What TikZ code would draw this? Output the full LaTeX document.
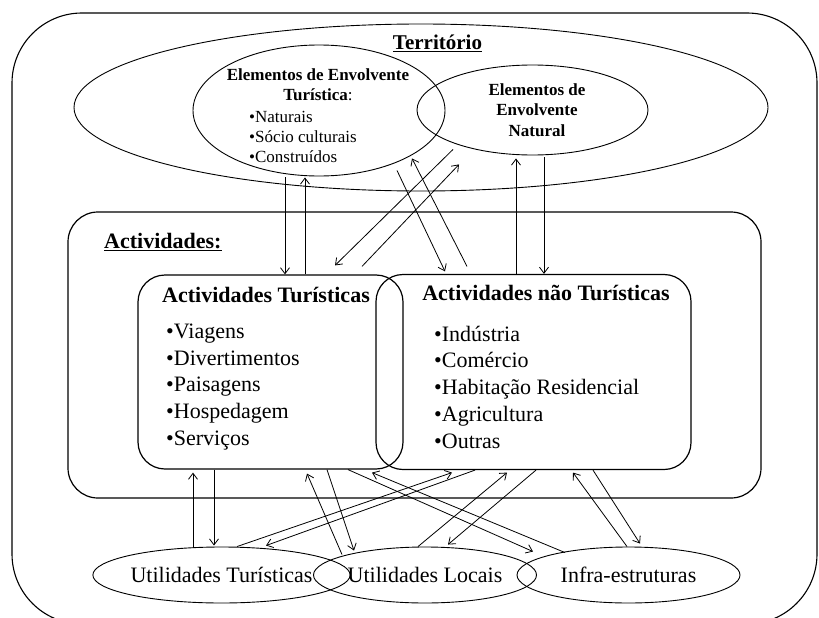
\documentclass[tikz,border=0pt]{standalone}
\usepackage{fontspec}
\setmainfont{Liberation Serif}
\usetikzlibrary{arrows.meta, calc, positioning, shapes.geometric}

\begin{document}
\begin{tikzpicture}[x=1pt, y=-1pt, node distance=203.5pt,
  >={Straight Barb[length=6pt,width=9pt]},
  oval/.style={draw, ellipse, line width=0.9pt, inner sep=0pt},
  box/.style={draw, rectangle, rounded corners=27pt, line width=1.2pt, inner sep=0pt},
  util/.style={oval, minimum width=223pt, minimum height=56pt, font=\fontsize{22}{26}\selectfont},
  big/.style={font=\fontsize{22}{26.75}\selectfont, align=left, inner sep=0pt},
  bigb/.style={font=\fontsize{22}{26.75}\selectfont\bfseries, inner sep=0pt},
  small/.style={font=\fontsize{17}{20}\selectfont, align=left, inner sep=0pt},
  smallb/.style={font=\fontsize{17}{20.5}\selectfont\bfseries, align=center, inner sep=0pt},
  link/.style={->, line width=0.8pt}]
  \useasboundingbox (0,0) rectangle (819,618);
  \draw[line width=1.1pt, rounded corners=70pt] (12,13) rectangle (817,624);

  \node[oval, minimum width=694pt, minimum height=167pt] (terr) at (421,107.5) {};
  \node[font=\fontsize{21}{24}\selectfont\bfseries, inner sep=0pt] (terrTxt) at (437.5,43) {\underline{Território}};
  \node[oval, minimum width=252pt, minimum height=131pt] (envTur) at (319,110.5) {};
  \node[smallb, font=\fontsize{17}{20}\selectfont\bfseries] (envTurTit) at (318,85) {Elementos de Envolvente\\Turística\textmd{:}};
  \node[small, anchor=west] (envTurList) at (249,137) {•Naturais\\•Sócio culturais\\•Construídos};
  \node[oval, minimum width=231pt, minimum height=90pt] (envNat) at (532.5,110) {};
  \node[smallb] (envNatTxt) at (537,110) {Elementos de\\Envolvente\\Natural};

  \node[box, rounded corners=30pt, minimum width=693pt, minimum height=286pt] (activ) at (414.5,355) {};
  \node[bigb, anchor=base west] (activTxt) at (104,248) {\underline{Actividades:}};
  \node[box, minimum width=265pt, minimum height=194pt] (tur) at (270.5,372) {};
  \node[box, minimum width=315pt, minimum height=195pt, node distance=263pt] (ntur) [right of=tur] {};
  \node[bigb] (turTit) at (266,295) {Actividades Turísticas};
  \node[bigb] (nturTit) at (546,293) {Actividades não Turísticas};
  \node[big, anchor=west] (turList) at (166,387) {•Viagens\\•Divertimentos\\•Paisagens\\•Hospedagem\\•Serviços};
  \node[big, anchor=west] (nturList) at (434,387) {•Indústria\\•Comércio\\•Habitação Residencial\\•Agricultura\\•Outras};

  \node[util] (uTur) at (221.5,575) {Utilidades Turísticas};
  \node[util] (uLoc) [right of=uTur] {Utilidades Locais};
  \node[util] (infra) [right of=uLoc] {Infra-estruturas};

  \draw[link] ($(envTur.south)+(-34,1)$) to ($(tur.north)+(14.5,0)$);
  \draw[link] ($(tur.north)+(34.5,0)$) to ($(envTur.south)+(-14,1)$);
  \draw[link] ($(envNat.south)+(-79.5,-6)$) to ($(tur.north)+(64.5,-9)$);
  \draw[link] ($(tur.north)+(91.5,-8)$) to ($(envNat.south)+(-73.5,9)$);
  \draw[link] ($(envTur.south)+(78,-6)$) to ($(ntur.north)+(-88.5,-2.5)$);
  \draw[link] ($(ntur.north)+(-66.5,-7.5)$) to ($(envTur.south)+(93,-18)$);
  \draw[link] ($(ntur.north)+(-17.5,0)$) to ($(envNat.south)+(-16.5,3)$);
  \draw[link] ($(envNat.south)+(11.5,2)$) to ($(ntur.north)+(10.5,0)$);

  \draw[link] ($(uTur.north)+(-28.5,1)$) to ($(tur.south)+(-77.5,3)$);
  \draw[link] ($(tur.south)+(-56.5,0)$) to ($(uTur.north)+(-7.5,-1)$);
  \draw[link] ($(uTur.north)+(15.5,0)$) to ($(ntur.south)+(-81.5,2.5)$);
  \draw[link] ($(ntur.south)+(-58.5,0)$) to ($(uTur.north)+(44.5,-1)$);
  \draw[link] ($(uLoc.north)+(-83,8)$) to ($(tur.south)+(36.5,4)$);
  \draw[link] ($(tur.south)+(56.5,0)$) to ($(uLoc.north)+(-71,4)$);
  \draw[link] ($(tur.south)+(77.5,0)$) to ($(infra.north)+(-95.5,5)$);
  \draw[link] ($(infra.north)+(-63.5,6)$) to ($(tur.south)+(101.5,3)$);
  \draw[link] ($(uLoc.north)+(-7,0)$) to ($(ntur.south)+(-26.5,2.5)$);
  \draw[link] ($(ntur.south)+(2.5,0)$) to ($(uLoc.north)+(23,-2)$);
  \draw[link] ($(infra.north)+(-1.5,0)$) to ($(ntur.south)+(39.5,2.5)$);
  \draw[link] ($(ntur.south)+(59.5,0)$) to ($(infra.north)+(11.5,-3)$);
\end{tikzpicture}
\end{document}
